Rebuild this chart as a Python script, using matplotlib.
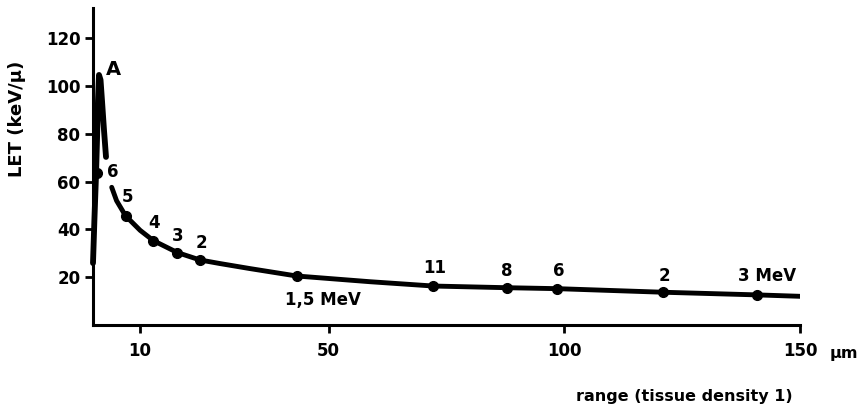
import matplotlib
matplotlib.use("Agg")
import matplotlib.pyplot as plt

# Bragg peak near the end of the track (range in um, LET in keV/u)
peak_range = [0.0, 0.3, 0.64, 0.85, 1.06, 1.27, 1.6, 1.9, 2.33, 2.76]
peak_let = [25.9, 44.0, 62.8, 77.4, 94.0, 104.6, 102.5, 94.1, 81.6, 70.3]

# LET curve along the track
curve_range = [3.97, 5.0, 6.9, 10.0, 12.8, 17.9, 22.7, 26.95, 33.3, 43.2,
               58.8, 72.2, 87.8, 98.5, 121.0, 140.8, 150.0]
curve_let = [57.6, 52.0, 45.7, 39.6, 35.3, 30.3, 27.2, 25.7, 23.6, 20.5,
             18.1, 16.3, 15.6, 15.2, 13.7, 12.6, 12.0]

# marked energies on the curve
energy_labels = ["6", "5", "4", "3", "2", "1,5 MeV", "11", "8", "6", "2", "3 MeV"]
point_range = [0.85, 6.9, 12.8, 17.9, 22.7, 43.2, 72.2, 87.8, 98.5, 121.0, 140.8]
point_let = [63.6, 45.7, 35.3, 30.3, 27.2, 20.5, 16.3, 15.6, 15.2, 13.7, 12.6]

x_ticks = [10, 50, 100, 150]
y_ticks = [20, 40, 60, 80, 100, 120]

# label offsets (points) from each marked energy
label_offsets = [(11.2, 0.5), (1.7, 13.8), (0.5, 12.4), (0.1, 11.7), (0.7, 11.9),
                 (18.6, -17.6), (1.2, 13.3), (0.2, 11.7), (0.9, 12.4), (0.5, 11.4),
                 (7.8, 13.3)]

plt.rcParams["font.family"] = ["DejaVu Sans"]
plt.rcParams["font.weight"] = "bold"

fig = plt.figure(figsize=(8.62, 4.12), dpi=100)
ax = fig.add_axes([93 / 862, 1 - 325 / 412, 707 / 862, 317 / 412])

ax.plot(peak_range, peak_let, color="black", lw=4.2, solid_capstyle="round",
        solid_joinstyle="round", clip_on=False)
ax.plot(curve_range, curve_let, color="black", lw=3.5, solid_capstyle="round",
        solid_joinstyle="round")
ax.plot(point_range, point_let, "o", color="black", ms=7)

for lab, x, y, off in zip(energy_labels, point_range, point_let, label_offsets):
    ax.annotate(lab, (x, y), xytext=off, textcoords="offset points",
                ha="center", va="center", fontsize=12, fontweight="bold")

ax.text(4.35, 106.7, "A", ha="center", va="center", fontsize=14, fontweight="bold")

ax.set_xlim(0, 150)
ax.set_ylim(0, 132.6)
ax.set_xticks(x_ticks)
ax.set_yticks(y_ticks)
ax.tick_params(axis="both", direction="out", length=6, width=2, labelsize=12)
ax.tick_params(axis="x", pad=6)
ax.tick_params(axis="y", pad=3)
for lbl in ax.get_xticklabels() + ax.get_yticklabels():
    lbl.set_fontweight("bold")

for side in ["top", "right"]:
    ax.spines[side].set_visible(False)
for side in ["left", "bottom"]:
    ax.spines[side].set_linewidth(2.2)

ax.text(1.062, -0.104, "μm", transform=ax.transAxes, ha="center",
        va="baseline", fontsize=11.5, fontweight="bold")
ax.text(0.837, -0.227, "range (tissue density 1)", transform=ax.transAxes,
        ha="center", va="center", fontsize=11.5, fontweight="bold")
ax.text(-0.1075, 0.65, "LET (keV/μ)", transform=ax.transAxes, rotation=90,
        ha="center", va="center", fontsize=13, fontweight="bold")

fig.savefig("out.png", dpi=100)
